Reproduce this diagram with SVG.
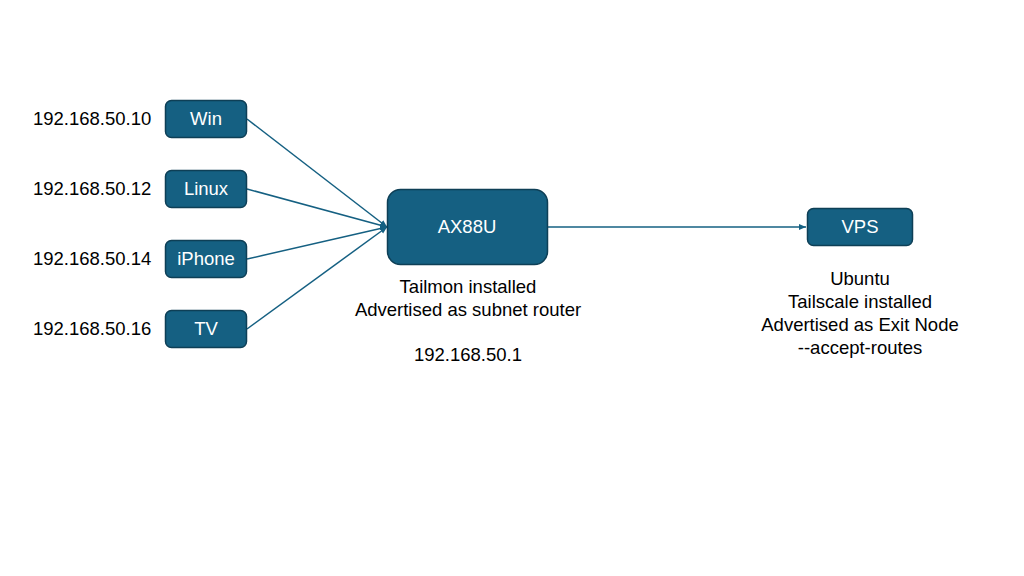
<svg xmlns="http://www.w3.org/2000/svg" width="1024" height="576" viewBox="0 0 1024 576">
<style>
.n{fill:#156082;stroke:#0e3f56;stroke-width:1.5}
.t{font-family:"Liberation Sans",Arial,sans-serif;font-size:18.5px;fill:#000}
.w{font-family:"Liberation Sans",Arial,sans-serif;font-size:18.5px;fill:#fff;text-anchor:middle}
.c{stroke:#156082;stroke-width:1.5;fill:none;marker-end:url(#a)}
</style>
<defs>
<marker id="a" markerWidth="8" markerHeight="8" refX="7" refY="4" orient="auto" markerUnits="userSpaceOnUse">
<path d="M0,1 L7,4 L0,7 z" fill="#156082"/>
</marker>
</defs>
<rect width="1024" height="576" fill="#fff"/>
<g id="connectors">
<line class="c" x1="247" y1="119" x2="387" y2="227"/>
<line class="c" x1="247" y1="189" x2="387" y2="227"/>
<line class="c" x1="247" y1="259" x2="387" y2="227"/>
<line class="c" x1="247" y1="329" x2="387" y2="227"/>
<line class="c" x1="548" y1="227" x2="806" y2="227"/>
</g>
<g id="win"><rect class="n" x="165.5" y="100.5" width="81" height="37" rx="6"/><text class="w" x="206" y="125">Win</text></g>
<g id="linux"><rect class="n" x="165.5" y="170.5" width="81" height="37" rx="6"/><text class="w" x="206" y="195">Linux</text></g>
<g id="iphone"><rect class="n" x="165.5" y="240.5" width="81" height="37" rx="6"/><text class="w" x="206" y="265">iPhone</text></g>
<g id="tv"><rect class="n" x="165.5" y="310.5" width="81" height="37" rx="6"/><text class="w" x="206" y="335">TV</text></g>
<g id="ax88u"><rect class="n" x="387.5" y="189.5" width="160" height="75" rx="13"/><text class="w" x="467" y="233">AX88U</text></g>
<g id="vps"><rect class="n" x="807.5" y="208.5" width="105" height="37" rx="6"/><text class="w" x="860" y="233">VPS</text></g>
<g id="labels">
<text class="t" x="33" y="125">192.168.50.10</text>
<text class="t" x="33" y="195">192.168.50.12</text>
<text class="t" x="33" y="265">192.168.50.14</text>
<text class="t" x="33" y="335">192.168.50.16</text>
<text class="t" x="468" y="293" text-anchor="middle">Tailmon installed</text>
<text class="t" x="468" y="316" text-anchor="middle">Advertised as subnet router</text>
<text class="t" x="468" y="361" text-anchor="middle">192.168.50.1</text>
<text class="t" x="860" y="285" text-anchor="middle">Ubuntu</text>
<text class="t" x="860" y="308" text-anchor="middle">Tailscale installed</text>
<text class="t" x="860" y="331" text-anchor="middle">Advertised as Exit Node</text>
<text class="t" x="860" y="354" text-anchor="middle">--accept-routes</text>
</g>
</svg>
